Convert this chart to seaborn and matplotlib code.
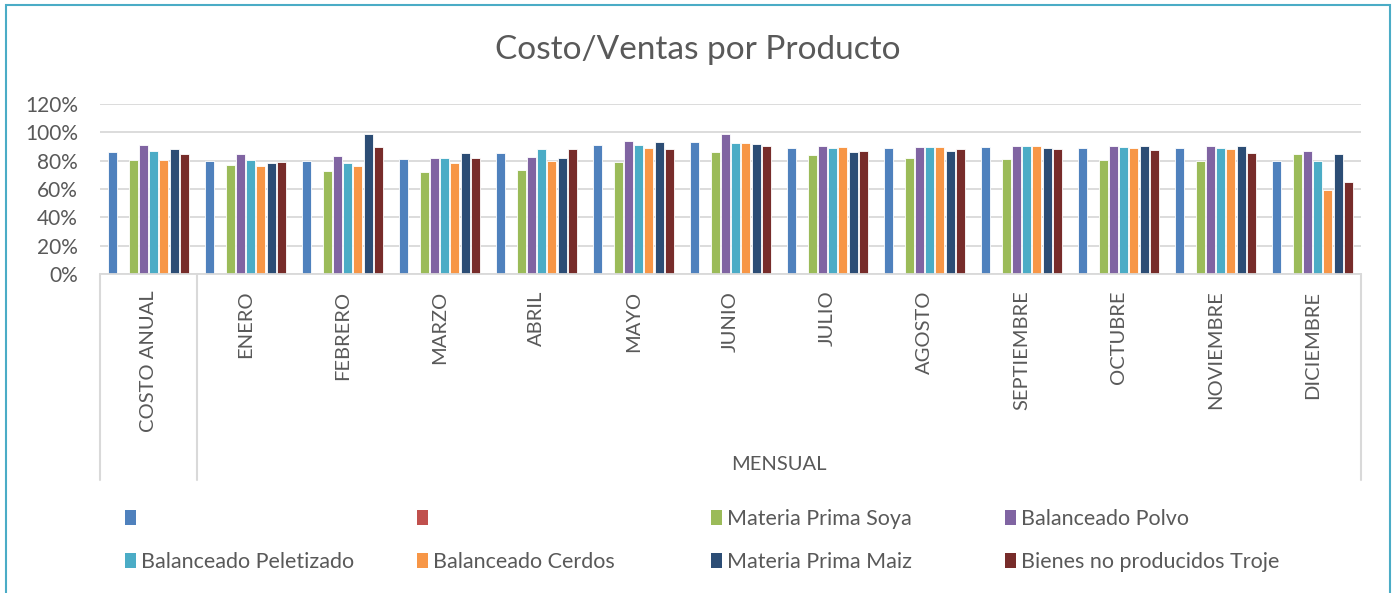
import numpy as np
import pandas as pd
import seaborn as sns
import matplotlib.pyplot as plt
from matplotlib.patches import Patch, Rectangle
from matplotlib.ticker import PercentFormatter, MultipleLocator

# ---------------- data ----------------
categorias = ["COSTO ANUAL", "ENERO", "FEBRERO", "MARZO", "ABRIL", "MAYO", "JUNIO",
              "JULIO", "AGOSTO", "SEPTIEMBRE", "OCTUBRE", "NOVIEMBRE", "DICIEMBRE"]

serie_azul = [86.1, 79.6, 79.6, 81.2, 85.4, 90.8, 92.9, 88.9, 89.2, 89.6, 89.2, 88.7, 79.8]
serie_roja = [None, None, None, None, None, None, None, None, None, None, None, None, None]
materia_prima_soya = [80.3, 76.7, 72.7, 71.8, 73.2, 79.1, 86.1, 84.0, 82.1, 81.0, 80.3, 79.8, 85.0]
balanceado_polvo = [90.8, 84.5, 83.5, 82.1, 82.6, 93.6, 98.6, 90.3, 89.6, 90.1, 90.6, 90.1, 87.1]
balanceado_peletizado = [86.6, 80.3, 78.6, 81.7, 88.0, 91.3, 92.7, 88.9, 89.6, 90.6, 89.6, 89.2, 79.6]
balanceado_cerdos = [80.3, 76.0, 76.3, 78.1, 80.0, 88.9, 92.7, 89.4, 89.6, 90.1, 89.2, 88.5, 59.6]
materia_prima_maiz = [88.5, 78.6, 99.0, 85.4, 82.1, 92.9, 91.7, 85.9, 86.6, 88.9, 90.1, 90.1, 85.0]
bienes_no_producidos_troje = [85.0, 79.1, 89.6, 81.7, 88.0, 88.0, 90.3, 87.1, 88.0, 88.5, 87.5, 85.7, 64.6]

series_claves = ["serie1", "serie2", "Materia Prima Soya", "Balanceado Polvo",
                 "Balanceado Peletizado", "Balanceado Cerdos", "Materia Prima Maiz",
                 "Bienes no producidos Troje"]
series_etiquetas = ["", "", "Materia Prima Soya", "Balanceado Polvo",
                    "Balanceado Peletizado", "Balanceado Cerdos", "Materia Prima Maiz",
                    "Bienes no producidos Troje"]
series_valores = [serie_azul, serie_roja, materia_prima_soya, balanceado_polvo,
                  balanceado_peletizado, balanceado_cerdos, materia_prima_maiz,
                  bienes_no_producidos_troje]
colores = ["#4F81BD", "#C0504D", "#9BBB59", "#8064A2", "#4BACC6", "#F79646",
           "#2C4D75", "#772C2A"]

grupo_superior = "MENSUAL"
titulo = "Costo/Ventas por Producto"

# ---------------- build long table ----------------
rows = []
for clave, vals in zip(series_claves, series_valores):
    for cat, v in zip(categorias, vals):
        rows.append({"Categoria": cat, "Serie": clave,
                     "Valor": np.nan if v is None else v})
df = pd.DataFrame(rows)

# ---------------- style ----------------
sns.set_theme(style="white")
plt.rcParams["font.family"] = ["Lato", "DejaVu Sans"]
txt = "#595959"
grid_c = "#D9D9D9"

W, H = 1393, 593
fig = plt.figure(figsize=(W / 100, H / 100), dpi=100)
ax = fig.add_axes([100 / W, 1 - 274 / H, (1361 - 100) / W, (274 - 104) / H])

sns.barplot(data=df, x="Categoria", y="Valor", hue="Serie", order=categorias,
            hue_order=series_claves, palette=dict(zip(series_claves, colores)),
            width=0.85, gap=0.12, saturation=1, edgecolor="white", linewidth=0.6,
            errorbar=None, legend=False, ax=ax)

ax.set_xlim(-0.5, len(categorias) - 0.5)
ax.set_ylim(0, 120)
ax.yaxis.set_major_locator(MultipleLocator(20))
ax.yaxis.set_major_formatter(PercentFormatter(100, decimals=0))
ax.yaxis.grid(True, color=grid_c, lw=1.3)
ax.set_axisbelow(True)
for s in ["top", "right", "left"]:
    ax.spines[s].set_visible(False)
ax.spines["bottom"].set_color(grid_c)
ax.spines["bottom"].set_linewidth(1.3)
ax.set_xlabel("")
ax.set_ylabel("")
ax.tick_params(axis="y", length=0, pad=16, labelsize=15, labelcolor=txt)
ax.tick_params(axis="x", length=0, pad=12, labelsize=14.5, labelcolor=txt)
for lab in ax.get_xticklabels():
    lab.set_rotation(90)
    lab.set_va("top")
    lab.set_ha("center")

# multi-level category box lines
trans = ax.get_xaxis_transform()
for xv in [-0.5, 0.5, len(categorias) - 0.5]:
    ax.plot([xv, xv], [0, -(480 - 274) / (274 - 104)], transform=trans,
            color=grid_c, lw=1.5, clip_on=False)

fig.text(779 / W, 1 - 465 / H, grupo_superior, ha="center", va="center",
         fontsize=14.5, color=txt)

# title
fig.text(698 / W, 1 - 50 / H, titulo, ha="center", va="center", fontsize=24, color=txt)

# legend: 4 equal-width columns, row-major order
handles = [Patch(facecolor=c, edgecolor="none") for c in colores]
col_x = [114, 406, 700, 994]
for c in range(4):
    idx = [c, c + 4]
    fig.legend([handles[i] for i in idx], [series_etiquetas[i] for i in idx],
               loc="upper left", bbox_to_anchor=(col_x[c] / W, 1 - 498 / H),
               frameon=False, fontsize=15.5, handlelength=0.5, handleheight=0.7,
               handletextpad=0.25, labelspacing=1.1, borderpad=0, labelcolor=txt)

# outer border
fig.add_artist(Rectangle((6 / W, -0.01), (1390 - 6) / W, 1.01 - 5 / H,
                         transform=fig.transFigure, fill=False,
                         edgecolor="#4BACC6", lw=1.5))

fig.savefig("out.png", dpi=100)
